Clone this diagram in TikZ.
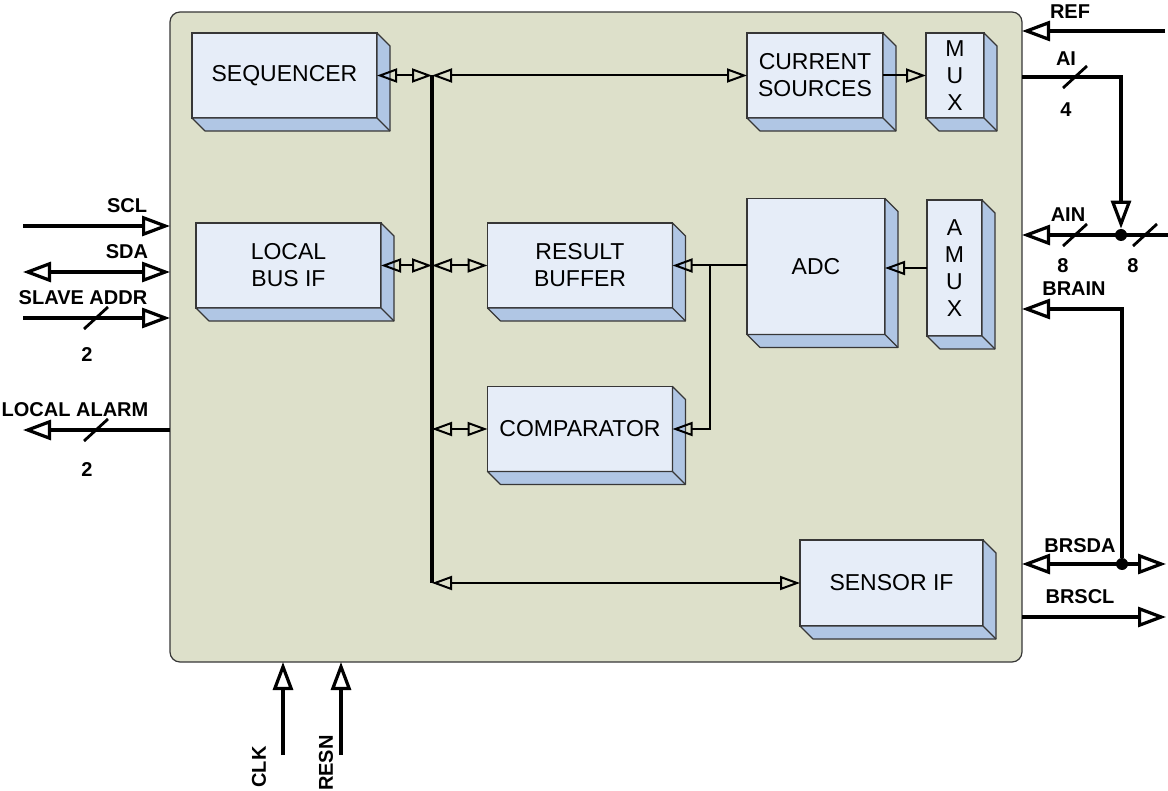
\documentclass[tikz,border=0pt]{standalone}
\usepackage{fontspec}
\setmainfont{Liberation Sans}
\usetikzlibrary{arrows.meta,calc}

\definecolor{chipfill}{RGB}{221,224,202}
\definecolor{boxfront}{RGB}{230,237,248}
\definecolor{boxside}{RGB}{176,198,228}
\definecolor{boxedge}{RGB}{55,55,55}

\begin{document}
\begin{tikzpicture}[x=0.5pt, y=-0.5pt,
    block/.style={draw=boxedge, fill=boxfront, line width=0.6pt, inner sep=0pt, outer sep=0pt,
        minimum width=92.5pt, minimum height=42.5pt, align=center, font=\fontsize{11.5}{13.5}\selectfont},
    side/.style={draw=boxedge, fill=boxside, line width=0.6pt, line join=round},
    wire/.style={line width=1pt, >={Triangle[open,length=10pt,width=7pt]}},
    bus/.style={line width=1.8pt},
    sig/.style={line width=1.6pt, >={Triangle[open,length=14pt,width=10pt]}},
    slash/.style={line width=1.4pt},
    lbl/.style={font=\bfseries\fontsize{10}{12}\selectfont, inner sep=0pt},
    dot/.style={circle, fill, inner sep=0pt, minimum size=6pt}]

    \useasboundingbox (0,0) rectangle (1168,791);

    % Chip outline
    \node[draw=boxedge, fill=chipfill, rounded corners=5pt, line width=0.6pt, minimum width=426pt,
        minimum height=325pt, inner sep=0pt, outer sep=0pt] (chip) at (596,337) {};

    % Define positions of the blocks
    \node[block] (seq) at (284.5,75.5) {SEQUENCER};
    \node[block] (lbus) at (288.5,265.5) {LOCAL\\BUS IF};
    \node[block] (res) at (580,265.5) {RESULT\\BUFFER};
    \node[block] (cmp) at (580,429) {COMPARATOR};
    \node[block, minimum width=68pt] (cur) at (815,75.5) {CURRENT\\SOURCES};
    \node[block, minimum width=29pt] (mux) at (955,75.5) {M\\U\\X};
    \node[block, minimum width=69pt, minimum height=68pt] (adc) at (816,266.5) {ADC};
    \node[block, minimum width=27.5pt, minimum height=68pt] (amux) at (954.5,268) {A\\M\\U\\X};
    \node[block, minimum width=91.5pt, minimum height=43pt] (sif) at (891.5,583) {SENSOR IF};

    % 3D sides of the blocks
    \foreach \b in {seq,lbus,res,cmp,cur,mux,adc,amux,sif}{
        \draw[side] (\b.north east) -- ++(13,13) |- ($(\b.south west)+(13,13)$) -- (\b.south west) -- (\b.south east) -- cycle;
        \draw[side] (\b.south east) -- ++(13,13);
    }

    % Internal bus
    \coordinate (bustop) at (432,75.5);
    \coordinate (busbot) at (432,583);
    \draw[bus] (bustop) -- (busbot);

    % Links to the bus
    \draw[wire,<->] (seq.east) -- (seq.east -| bustop);
    \draw[wire,<->] (bustop) -- (cur.west);
    \draw[wire,<->] (lbus.east) -- (lbus.east -| bustop);
    \draw[wire,<->] (res.west -| bustop) -- (res.west);
    \draw[wire,<->] (cmp.west -| bustop) -- (cmp.west);
    \draw[wire,<->] (busbot) -- (sif.west);

    % Data path
    \draw[wire,->] (cur.east) -- (mux.west);
    \draw[wire,->] (amux.west) -- (amux.west -| adc.east);
    \draw[wire,->] (adc.west |- res.east) -- (res.east);
    \coordinate (split) at (710,265.5);
    \draw[wire,->] (split) |- (cmp.east);

    % Left side signals
    \coordinate (sclin) at (23,226);
    \coordinate (sdain) at (23,272);
    \coordinate (addrin) at (23,318);
    \coordinate (alarmout) at (23,430);
    \draw[sig,->] (sclin) -- (sclin -| chip.west);
    \draw[sig,<->] (sdain) -- (sdain -| chip.west);
    \draw[sig,->] (addrin) -- (addrin -| chip.west);
    \draw[sig,->] (alarmout -| chip.west) -- (alarmout);

    % Bottom signals
    \coordinate (clkin) at (283,755);
    \coordinate (resnin) at (341,755);
    \draw[sig,->] (clkin) -- (clkin |- chip.south);
    \draw[sig,->] (resnin) -- (resnin |- chip.south);

    % Right side signals
    \coordinate (refin) at (1165,31);
    \draw[sig,->] (refin) -- (refin -| chip.east);
    \coordinate (aibend) at (1121,77);
    \node[dot] (aindot) at (1121,235) {};
    \draw[sig,->] (aibend -| chip.east) -- (aibend) -- (aindot.north);
    \coordinate (ainin) at (1168,235);
    \draw[sig,->] (ainin) -- (ainin -| chip.east);
    \node[dot] (brdot) at (1122,564) {};
    \coordinate (brain) at (1100,309);
    \draw[sig,->] (brdot) |- (brain -| chip.east);
    \coordinate (brsdaout) at (1166,564);
    \draw[sig,<->] (brsdaout -| chip.east) -- (brsdaout);
    \coordinate (brsclout) at (1166,617);
    \draw[sig,->] (brsclout -| chip.east) -- (brsclout);

    % Bus width marks
    \foreach \sx/\sy in {1075/77, 1075/235, 1145/235, 96/318, 96/430}
        \draw[slash] (\sx,\sy) ++(-12,11) -- ++(24,-22);

    % Labels
    \node[lbl] (scllbl) at (127,206) {SCL};
    \node[lbl] (sdalbl) at (127,252) {SDA};
    \node[lbl] (addrlbl) at (83,298) {SLAVE ADDR};
    \node[lbl] (addrw) at (87,355) {2};
    \node[lbl] (alarmlbl) at (75,410) {LOCAL ALARM};
    \node[lbl] (alarmw) at (87,470) {2};
    \node[lbl] (reflbl) at (1070,12) {REF};
    \node[lbl] (ailbl) at (1066,59) {AI};
    \node[lbl] (aiw) at (1066,110) {4};
    \node[lbl] (ainlbl) at (1068,215) {AIN};
    \node[lbl] (ainw) at (1063,266) {8};
    \node[lbl] (ainw2) at (1133,266) {8};
    \node[lbl] (brainlbl) at (1074,289) {BRAIN};
    \node[lbl] (brsdalbl) at (1080,546) {BRSDA};
    \node[lbl] (brscllbl) at (1080,597) {BRSCL};
    \node[lbl, rotate=90] (clklbl) at (259,767) {CLK};
    \node[lbl, rotate=90] (resnlbl) at (326,763) {RESN};
\end{tikzpicture}
\end{document}
